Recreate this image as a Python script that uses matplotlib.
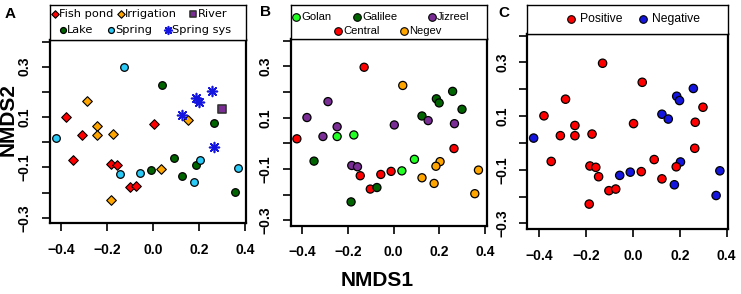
import matplotlib
matplotlib.use("Agg")
import matplotlib.pyplot as plt

# ---------------- data ----------------
nmds1 = [-0.423, -0.379, -0.287, -0.309, -0.247, -0.247, -0.174, -0.129, 0.040, 0.003,
         0.124, 0.151, 0.187, 0.199, 0.258, 0.299, 0.266, 0.264, -0.348, -0.183,
         -0.158, -0.146, -0.102, -0.073, -0.186, -0.056, -0.011, 0.036, 0.091, 0.124,
         0.203, 0.185, 0.177, 0.371, 0.355]
nmds2 = [0.018, 0.101, 0.163, 0.027, 0.065, 0.027, 0.033, 0.297, 0.226, 0.072,
         0.107, 0.089, 0.174, 0.158, 0.203, 0.133, 0.077, -0.020, -0.069, -0.086,
         -0.091, -0.126, -0.178, -0.172, -0.228, -0.121, -0.109, -0.107, -0.062, -0.134,
         -0.071, -0.089, -0.156, -0.104, -0.196]
source = ["Spring", "Fish pond", "Irrigation", "Fish pond", "Irrigation", "Irrigation", "Irrigation",
          "Spring", "Lake", "Fish pond", "Spring sys", "Irrigation", "Spring sys", "Spring sys",
          "Spring sys", "River", "Lake", "Spring sys", "Fish pond", "Fish pond", "Fish pond",
          "Spring", "Fish pond", "Fish pond", "Irrigation", "Spring", "Lake", "Irrigation",
          "Lake", "Lake", "Spring", "Lake", "Spring", "Spring", "Lake"]
region = ["Central", "Jizreel", "Jizreel", "Jizreel", "Jizreel", "Golan", "Golan", "Central",
          "Negev", "Jizreel", "Galilee", "Jizreel", "Galilee", "Galilee", "Galilee", "Galilee",
          "Jizreel", "Central", "Galilee", "Jizreel", "Jizreel", "Central", "Central", "Galilee",
          "Galilee", "Central", "Central", "Golan", "Golan", "Negev", "Negev", "Negev", "Negev",
          "Negev", "Negev"]
status = ["Negative", "Positive", "Positive", "Positive", "Positive", "Positive", "Positive",
          "Positive", "Positive", "Positive", "Negative", "Negative", "Negative", "Negative",
          "Negative", "Positive", "Positive", "Positive", "Positive", "Positive", "Positive",
          "Positive", "Positive", "Positive", "Positive", "Negative", "Negative", "Positive",
          "Positive", "Positive", "Negative", "Positive", "Negative", "Negative", "Negative"]

source_order = ["Fish pond", "Irrigation", "River", "Lake", "Spring", "Spring sys"]
region_order = ["Golan", "Galilee", "Jizreel", "Central", "Negev"]
status_order = ["Positive", "Negative"]

x_ticks = [-0.4, -0.2, 0.0, 0.2, 0.4]
x_tick_labels = ["\u22120.4", "\u22120.2", "0.0", "0.2", "0.4"]
y_ticks = [-0.3, -0.1, 0.1, 0.3]
y_tick_labels = ["\u22120.3", "\u22120.1", "0.1", "0.3"]
y_minor_ticks = [-0.2, 0.0, 0.2, 0.4]

# ---------------- styles ----------------
RED = "#FF0000"
ORANGE = "#FFA500"
PURPLE = "#7A2E95"
DKGREEN = "#006400"
CYAN = "#2CCBF7"
BLUE = "#1515E0"
LIME = "#22FF22"

src_style = {
    "Fish pond": dict(marker="D", c=RED, s=24, edgecolors="black", linewidths=0.8),
    "Irrigation": dict(marker="D", c=ORANGE, s=24, edgecolors="black", linewidths=0.8),
    "River": dict(marker="s", c=PURPLE, s=34, edgecolors="#333333", linewidths=1.2),
    "Lake": dict(marker="o", c=DKGREEN, s=30, edgecolors="black", linewidths=0.9),
    "Spring": dict(marker="o", c=CYAN, s=30, edgecolors="black", linewidths=0.9),
    "Spring sys": dict(marker=(8, 2, 0), c=BLUE, s=50, linewidths=1.2),
}
reg_color = {"Golan": LIME, "Galilee": DKGREEN, "Jizreel": PURPLE, "Central": RED, "Negev": ORANGE}
stat_color = {"Positive": RED, "Negative": BLUE}

W, H = 741, 294
fig = plt.figure(figsize=(W / 100, H / 100), dpi=100)

def px_axes(l, t, r, b):
    return fig.add_axes([l / W, 1 - b / H, (r - l) / W, (b - t) / H])

TICKFONT = dict(family="Liberation Sans", weight="bold", size=10)

def style_axes(ax):
    ax.set_xlim(-0.45, 0.407)
    ax.set_ylim(-0.322, 0.406)
    ax.set_xticks(x_ticks)
    ax.set_xticklabels(x_tick_labels, fontdict=TICKFONT)
    ax.set_yticks(y_ticks)
    ax.set_yticklabels(y_tick_labels, fontdict=TICKFONT, rotation=90, va="center")
    ax.set_yticks(y_minor_ticks, minor=True)
    ax.tick_params(axis="both", which="both", length=6, width=1.2, direction="out", color="black")
    ax.tick_params(axis="x", pad=8)
    ax.tick_params(axis="y", pad=7)
    for sp in ax.spines.values():
        sp.set_linewidth(1.6)

def legend_axes(l, t, r, b):
    lax = px_axes(l, t, r, b)
    lax.set_xlim(l, r)
    lax.set_ylim(b, t)
    lax.set_xticks([])
    lax.set_yticks([])
    for sp in lax.spines.values():
        sp.set_linewidth(1.0)
    return lax

# ---------------- panel A ----------------
axA = px_axes(50, 40, 246.5, 223.3)
for cat in source_order:
    xs = [x for x, s in zip(nmds1, source) if s == cat]
    ys = [y for y, s in zip(nmds2, source) if s == cat]
    axA.scatter(xs, ys, zorder=3, **src_style[cat])
style_axes(axA)

legA = legend_axes(50, 5, 246.5, 40)
legA_items = [("Fish pond", 54.5, 14), ("Irrigation", 120.5, 14), ("River", 193.5, 14),
              ("Lake", 62.5, 30), ("Spring", 111, 30), ("Spring sys", 168, 30)]
for lab, lx, ly in legA_items:
    st = dict(src_style[lab])
    st["s"] = st["s"] * 0.6
    legA.scatter([lx], [ly], clip_on=False, **st)
    legA.text(lx + 4.5, ly, lab, family="DejaVu Sans", size=8.2, va="center", ha="left")

# ---------------- panel B ----------------
axB = px_axes(290.7, 39.3, 486.7, 226)
axB.scatter(nmds1, nmds2, c=[reg_color[r] for r in region], s=34,
            edgecolors="black", linewidths=0.9, zorder=3)
style_axes(axB)

legB = legend_axes(290.7, 5, 486.7, 39.3)
legB_items = [("Golan", 296, 17.3), ("Galilee", 357.3, 17.3), ("Jizreel", 432.3, 17.3),
              ("Central", 338.3, 31), ("Negev", 404.3, 31)]
for lab, lx, ly in legB_items:
    legB.scatter([lx], [ly], c=reg_color[lab], s=30, edgecolors="black", linewidths=0.8)
    legB.text(lx + 5, ly, lab, family="Liberation Sans", size=8.1, va="center", ha="left")

# ---------------- panel C ----------------
axC = px_axes(527.3, 34, 728.3, 229.3)
axC.scatter(nmds1, nmds2, c=[stat_color[s] for s in status], s=36,
            edgecolors="black", linewidths=0.9, zorder=3)
style_axes(axC)

legC = legend_axes(527.3, 5, 728.3, 34)
legC_items = [("Positive", 571, 19), ("Negative", 642.7, 19)]
for lab, lx, ly in legC_items:
    legC.scatter([lx], [ly], c=stat_color[lab], s=30, edgecolors="black", linewidths=0.8)
    legC.text(lx + 9, ly, lab, family="Liberation Sans", size=8.7, va="center", ha="left")

# ---------------- labels ----------------
fig.text(377.3 / W, 1 - 281 / H, "NMDS1", family="Liberation Sans", weight="bold",
         size=15, ha="center", va="center")
fig.text(8 / W, 1 - 120 / H, "NMDS2", family="Liberation Sans", weight="bold",
         size=15, ha="center", va="center", rotation=90)
for letter, lx, ly in [("A", 10, 14), ("B", 265.5, 12.5), ("C", 504, 13)]:
    fig.text(lx / W, 1 - ly / H, letter, family="Liberation Sans", weight="bold",
             size=11, ha="center", va="center")

fig.savefig("out.png", dpi=100)
